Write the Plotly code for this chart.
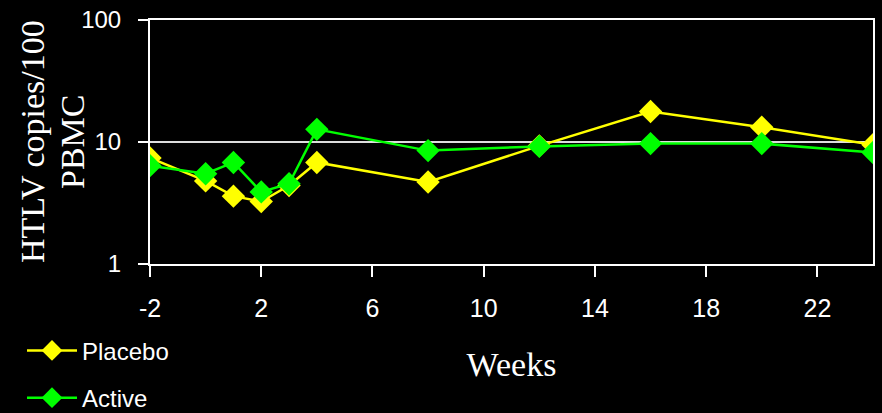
import plotly.graph_objects as go

# Study weeks and HTLV proviral load (copies per 100 PBMC)
weeks = [-2, 0, 1, 2, 3, 4, 8, 12, 16, 20, 24]
placebo = [7.4, 4.8, 3.6, 3.25, 4.4, 6.8, 4.7, 9.3, 17.8, 13.2, 9.5]
active = [6.4, 5.5, 6.8, 3.9, 4.55, 12.7, 8.5, 9.2, 9.7, 9.7, 8.2]

x_ticks = [-2, 2, 6, 10, 14, 18, 22]
y_ticks = [1, 10, 100]
y_title_lines = ["HTLV copies/100", "PBMC"]

YELLOW = "#FFFF00"
GREEN = "#00FF00"
WHITE = "#FFFFFF"
SERIF = "Liberation Serif, Times New Roman, serif"

fig = go.Figure()
fig.add_trace(go.Scatter(
    x=weeks, y=placebo, name="Placebo", mode="lines+markers",
    line=dict(color=YELLOW, width=2.5),
    marker=dict(symbol="diamond", size=18, color=YELLOW),
    legendgroup="p",
))
fig.add_trace(go.Scatter(
    x=weeks, y=active, name="Active", mode="lines+markers",
    line=dict(color=GREEN, width=2.5),
    marker=dict(symbol="diamond", size=18, color=GREEN),
    legendgroup="a",
))

# Two-line rotated y-axis title, placed in the left margin
title_x = [32, 72]  # pixel centres of each line from the left edge
plot_left, plot_width = 150, 882 - 150 - 9
annotations = [
    dict(
        text=line, textangle=-90,
        xref="paper", yref="paper", x=(px - plot_left) / plot_width, y=0.5,
        xanchor="center", yanchor="middle", showarrow=False,
        font=dict(family=SERIF, size=34, color=WHITE),
    )
    for line, px in zip(y_title_lines, title_x)
]

fig.update_layout(
    width=882, height=413,
    margin=dict(l=150, r=9, t=20, b=149, autoexpand=False),
    paper_bgcolor="black", plot_bgcolor="black",
    font=dict(family="Arial, Liberation Sans", color=WHITE, size=22),
    showlegend=True,
    legend=dict(
        xref="container", yref="container",
        x=0.0, y=0.205, xanchor="left", yanchor="top",
        bgcolor="rgba(0,0,0,0)", font=dict(size=24, color=WHITE),
        tracegroupgap=13, itemwidth=50, indentation=22,
    ),
    xaxis=dict(
        range=[-2, 24], tickvals=x_ticks, ticktext=[str(t) for t in x_ticks],
        showgrid=False, zeroline=False, automargin=False,
        showline=True, linecolor=WHITE, linewidth=2, mirror=True,
        ticks="outside", ticklen=11, tickwidth=2, tickcolor=WHITE,
        tickfont=dict(size=25), ticklabelstandoff=10,
        title=dict(text="Weeks", font=dict(family=SERIF, size=34), standoff=31),
    ),
    yaxis=dict(
        type="log", range=[0, 2], tickvals=y_ticks, ticktext=[str(t) for t in y_ticks],
        showgrid=True, gridcolor="#DDDDDD", gridwidth=2, zeroline=False, automargin=False,
        showline=True, linecolor=WHITE, linewidth=2, mirror=True,
        ticks="outside", ticklen=10, tickwidth=2, tickcolor=WHITE,
        tickfont=dict(size=24), ticklabelstandoff=12,
    ),
    annotations=annotations,
)

fig.write_html("out.html")
